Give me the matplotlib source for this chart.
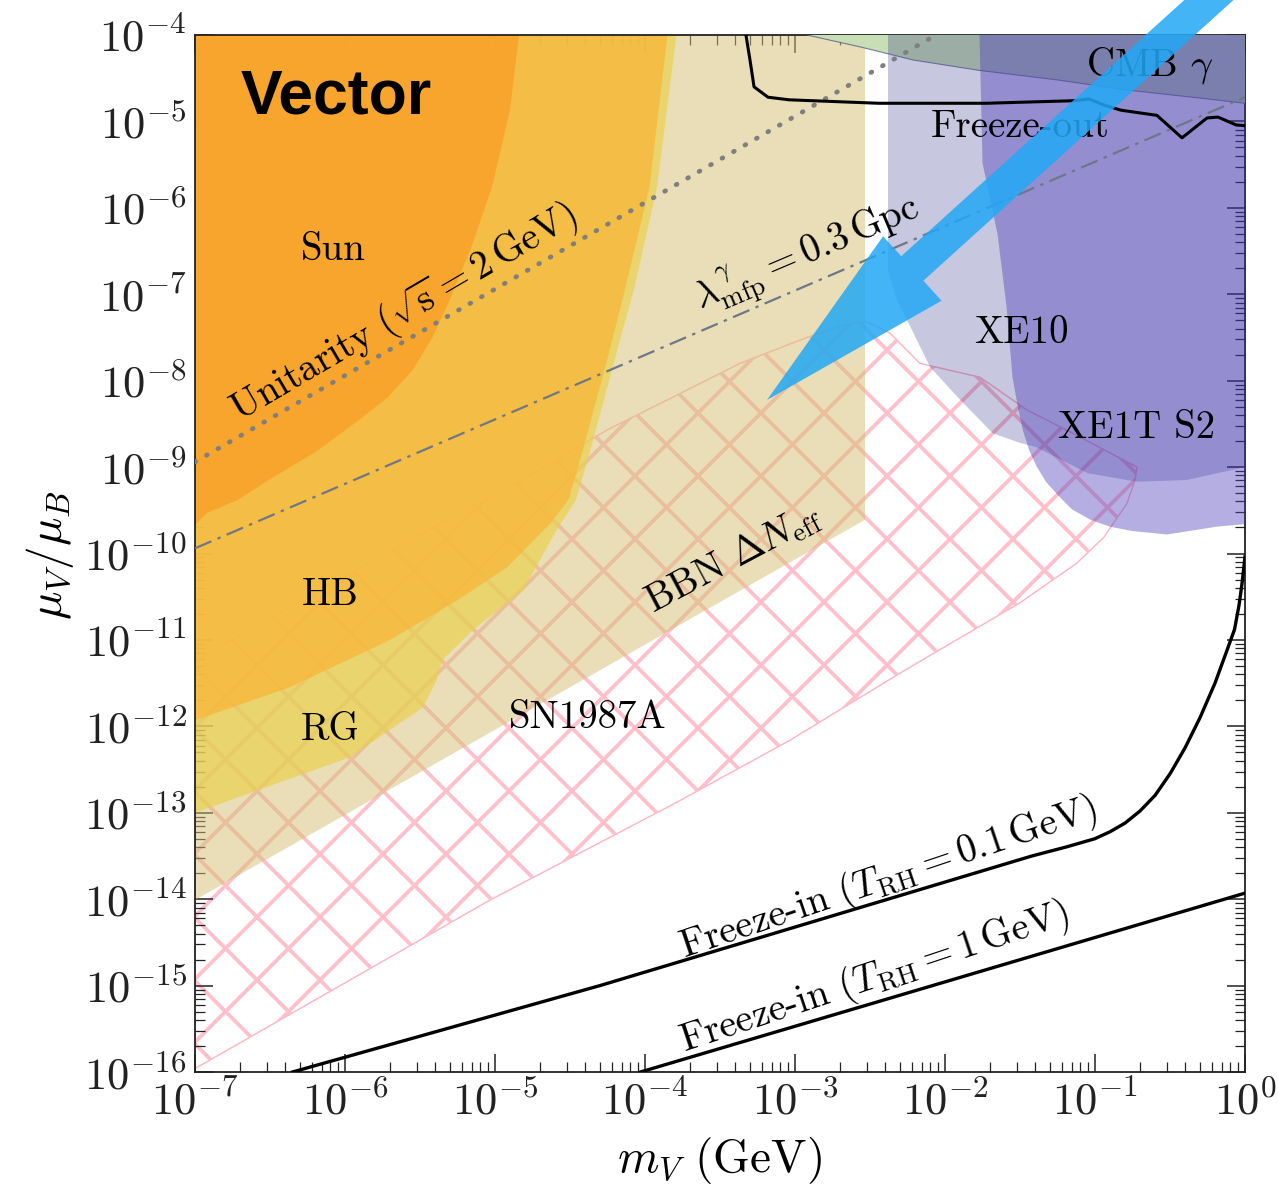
import numpy as np
import matplotlib
matplotlib.use('Agg')
import matplotlib.pyplot as plt
from matplotlib.patches import Polygon, FancyArrow
from matplotlib.collections import LineCollection
from matplotlib.ticker import FixedLocator, FuncFormatter, NullFormatter

plt.rcParams['mathtext.fontset'] = 'cm'

# --- exclusion regions, log10(m_V / GeV) vs log10(mu_V / mu_B) ---
sun_logm = [-4.84, -4.90, -5.02, -5.153, -5.31, -5.42, -5.55, -5.713, -5.91, -6.20, -6.51,
            -6.713, -6.92, -7.00]
sun_logmu = [-4.00, -4.87, -5.76, -6.43, -7.10, -7.51, -7.88, -8.19, -8.46, -8.83, -9.15,
             -9.38, -9.53, -9.67]

hb_logm = [-3.85, -3.97, -4.13, -4.24, -4.42, -4.51, -4.63, -4.92, -5.25, -5.70, -6.37, -7.00]
hb_logmu = [-4.00, -5.76, -6.92, -7.68, -8.84, -9.38, -9.65, -10.16, -10.54, -11.00, -11.55, -11.93]

rg_logm = [-3.79, -3.92, -4.07, -4.19, -4.37, -4.46, -4.59, -4.81, -5.15, -5.35, -5.39, -5.48,
           -5.70, -5.97, -7.00]
rg_logmu = [-4.00, -5.76, -6.92, -7.68, -8.84, -9.38, -9.73, -10.42, -10.89, -11.23, -11.47,
            -11.78, -12.04, -12.36, -13.00]

bbn_logm = [-7.00, -2.533, -2.533, -7.00]
bbn_logmu = [-4.00, -4.00, -9.61, -14.01]

sn_logm = [-7.00, -5.367, -4.70, -4.253, -3.813, -3.367, -2.92, -2.667, -2.52, -2.367, -2.253,
           -2.167, -1.767, -1.453, -1.147, -0.72, -0.733, -0.787, -0.94, -1.12, -1.50, -2.267,
           -3.033, -3.80, -5.033, -7.00]
sn_logmu = [-11.24, -9.65, -9.03, -8.57, -8.19, -7.80, -7.50, -7.35, -7.32, -7.45, -7.65,
            -7.80, -7.96, -8.34, -8.61, -9.00, -9.15, -9.42, -9.81, -10.11, -10.57, -11.35,
            -12.16, -12.89, -14.01, -15.96]

xe10_logm = [-2.38, -2.38, -2.32, -2.21, -2.10, -1.90, -1.68, -1.50, -1.39, -1.05, -0.72,
             -0.39, 0.00]
xe10_logmu = [-4.00, -6.72, -7.07, -7.45, -7.84, -8.22, -8.61, -8.72, -8.77, -9.07, -9.17,
              -9.15, -9.00]

xe1t_logm = [-1.77, -1.75, -1.65, -1.59, -1.55, -1.513, -1.48, -1.44, -1.39, -1.327, -1.25,
             -1.153, -1.03, -0.90, -0.75, -0.52, -0.19, 0.00]
xe1t_logmu = [-4.00, -5.48, -6.30, -7.14, -7.96, -8.32, -8.58, -8.80, -8.99, -9.17, -9.32,
              -9.49, -9.61, -9.69, -9.74, -9.78, -9.69, -9.66]

cmb_logm = [-2.92, -2.56, -2.21, -1.77, -1.25, -0.77, -0.30, 0.00]
cmb_logmu = [-4.00, -4.14, -4.29, -4.41, -4.52, -4.64, -4.73, -4.79]

# --- reference curves ---
unitarity_logm = [-7.00, -2.06]
unitarity_logmu = [-8.94, -4.00]

mfp_logm = [-7.00, 0.00]
mfp_logmu = [-9.94, -4.72]

freezeout_logm = [-3.327, -3.30, -3.273, -3.18, -3.04, -2.44, -1.727, -1.133, -1.04, -0.94,
                  -0.827, -0.587, -0.42, -0.253, -0.18, -0.06, 0.00]
freezeout_logmu = [-4.00, -4.29, -4.60, -4.72, -4.75, -4.79, -4.79, -4.76, -4.74, -4.81,
                   -4.87, -4.93, -5.19, -4.96, -4.95, -5.04, -5.05]

fin01_logm = [-6.35, -4.30, -2.86, -1.42, -1.20, -1.00, -0.90, -0.80, -0.70, -0.60, -0.50,
              -0.40, -0.30, -0.20, -0.12, -0.07, -0.04, -0.02, 0.00]
fin01_logmu = [-16.00, -15.00, -14.25, -13.50, -13.40, -13.30, -13.22, -13.12, -12.98, -12.80,
               -12.55, -12.25, -11.90, -11.50, -11.12, -10.88, -10.60, -10.35, -10.04]

fin1_logm = [-4.03, 0.00]
fin1_logmu = [-16.00, -13.93]

x_decades = np.arange(-7, 1)
y_decades = np.arange(-16, -3)


def pts(logm, logmu):
    return np.column_stack([np.power(10.0, logm), np.power(10.0, logmu)])


def region(logm, logmu, close_m, close_mu):
    """Boundary points closed off through the given corner points."""
    xy = pts(logm, logmu)
    return np.vstack([xy, pts(close_m, close_mu)])


fig = plt.figure(figsize=(12.78, 11.90), dpi=100)
ax = fig.add_axes([195 / 1278, 1 - 1072 / 1190, 1050 / 1278, 1037 / 1190])
ax.set_xscale('log')
ax.set_yscale('log')
ax.set_xlim(1e-7, 1)
ax.set_ylim(1e-16, 1e-4)

# SN1987A: cross-hatched band, hatch drawn by hand so the cells are large
sn_patch = Polygon(pts(sn_logm, sn_logmu), closed=True, facecolor='none',
                   edgecolor='#ffb3c0', lw=1.0, zorder=1)
ax.add_patch(sn_patch)
W, H, step = 1050.0, 1037.0, 63.0
segs = []
for c in np.arange(93 - 18 * step, H + step, step):
    segs.append([(0, c / H), (1, (W + c) / H)])
for d in np.arange(217 - 4 * step, W + H + 2 * step, step):
    segs.append([(0, d / H), (1, (d - W) / H)])
hatch = LineCollection(segs, colors='#ffc0cb', linewidths=2.7,
                       transform=ax.transAxes, zorder=1)
hatch.set_clip_path(sn_patch)
ax.add_collection(hatch)

# BBN, red giants, horizontal branch, Sun
ax.add_patch(Polygon(pts(bbn_logm, bbn_logmu), closed=True, facecolor='#d5bf71',
                     alpha=0.5, lw=0, zorder=2))
ax.add_patch(Polygon(region(rg_logm, rg_logmu, [-7.0], [-4.0]), closed=True,
                     facecolor='#e9d14e', alpha=0.7, lw=0, zorder=2))
ax.add_patch(Polygon(region(hb_logm, hb_logmu, [-7.0], [-4.0]), closed=True,
                     facecolor='#f8b83c', alpha=0.8, lw=0, zorder=2))
ax.add_patch(Polygon(region(sun_logm, sun_logmu, [-7.0], [-4.0]), closed=True,
                     facecolor='#f8a028', alpha=0.8, lw=0, zorder=2))

# CMB, then the XENON regions on top of it
ax.add_patch(Polygon(region(cmb_logm, cmb_logmu, [0.0], [-4.0]), closed=True,
                     facecolor='#c8deb4', lw=0, zorder=3))
ax.add_patch(Polygon(region(xe10_logm, xe10_logmu, [0.0], [-4.0]), closed=True,
                     facecolor='#0d0d76', alpha=0.23, lw=0, zorder=4))
ax.add_patch(Polygon(region(xe1t_logm, xe1t_logmu, [0.0], [-4.0]), closed=True,
                     facecolor='#4f40bc', alpha=0.42, lw=0, zorder=4))
cmb_edge = pts(cmb_logm, cmb_logmu)
ax.plot(cmb_edge[:, 0], cmb_edge[:, 1], color='#4b4b8a', lw=0.8, alpha=0.7, zorder=4.5)

# lines
u = pts(unitarity_logm, unitarity_logmu)
ax.plot(u[:, 0], u[:, 1], color='#7f7f7f', lw=3.4, ls=(0, (0.2, 2.6)),
        dash_capstyle='round', zorder=5)
l = pts(mfp_logm, mfp_logmu)
ax.plot(l[:, 0], l[:, 1], color='#6e7787', lw=1.6, ls=(0, (8, 3, 1.5, 3)), zorder=5)
fo = pts(freezeout_logm, freezeout_logmu)
ax.plot(fo[:, 0], fo[:, 1], color='black', lw=2.2, zorder=5)
f01 = pts(fin01_logm, fin01_logmu)
ax.plot(f01[:, 0], f01[:, 1], color='black', lw=2.4, zorder=5)
f1 = pts(fin1_logm, fin1_logmu)
ax.plot(f1[:, 0], f1[:, 1], color='black', lw=2.4, zorder=5)

# labels
lab = dict(fontsize=28, fontfamily='cmr10', ha='center', va='center',
           rotation_mode='anchor', zorder=6)
ax.text(10**-6.08, 10**-6.49, 'Sun', **lab)
ax.text(10**-6.10, 10**-10.48, 'HB', **lab)
ax.text(10**-6.10, 10**-12.04, 'RG', **lab)
ax.text(10**-4.38, 10**-11.90, 'SN1987A', **lab)
ax.text(10**-1.49, 10**-7.45, 'XE10', **lab)
ax.text(10**-0.72, 10**-8.55, 'XE1T S2', **lab)
ax.text(10**-0.633, 10**-4.35, r'CMB $\gamma$', **lab)
ax.text(10**-1.50, 10**-5.06, 'Freeze-out', **lab)
ax.text(10**-5.613, 10**-7.21, r'Unitarity $(\sqrt{\mathrm{s}}=2\,\mathrm{GeV})$',
        rotation=30.4, **lab)
ax.text(10**-2.913, 10**-6.55, r'$\lambda_{\mathrm{mfp}}^{\gamma}=0.3\,\mathrm{Gpc}$',
        rotation=23, **lab)
ax.text(10**-3.413, 10**-10.05, r'BBN $\Delta N_{\mathrm{eff}}$', rotation=28, **lab)
ax.text(10**-2.38, 10**-13.76, r'Freeze-in $(T_{\mathrm{RH}}=0.1\,\mathrm{GeV})$',
        rotation=18.6, **lab)
ax.text(10**-2.467, 10**-14.91, r'Freeze-in $(T_{\mathrm{RH}}=1\,\mathrm{GeV})$',
        rotation=18.4, **lab)
ax.text(0.043, 0.940, 'Vector', transform=ax.transAxes, fontsize=45,
        fontfamily='Liberation Sans', fontweight='bold', ha='left', va='center', zorder=6)

# axes and ticks
ax.xaxis.set_major_locator(FixedLocator(10.0**x_decades))
ax.yaxis.set_major_locator(FixedLocator(10.0**y_decades))
ax.xaxis.set_minor_locator(FixedLocator(
    [s * 10.0**e for e in x_decades[:-1] for s in range(2, 10)]))
ax.yaxis.set_minor_locator(FixedLocator(
    [s * 10.0**e for e in y_decades[:-1] for s in range(2, 10)]))
dec_fmt = FuncFormatter(lambda v, _: r'$10^{%d}$' % int(round(np.log10(v))))
ax.xaxis.set_major_formatter(dec_fmt)
ax.yaxis.set_major_formatter(dec_fmt)
ax.xaxis.set_minor_formatter(NullFormatter())
ax.yaxis.set_minor_formatter(NullFormatter())
ax.tick_params(which='both', direction='in', top=True, right=True, colors='#222222')
ax.tick_params(which='major', length=13, width=1.1, labelsize=32, pad=6)
ax.tick_params(which='minor', length=7, width=0.9)
for sp in ax.spines.values():
    sp.set_linewidth(1.3)
    sp.set_color('#222222')

fig.text(720 / 1278, 1 - 1160 / 1190, r'$m_V\ (\mathrm{GeV})$', fontsize=34,
         ha='center', va='center')
fig.text(50 / 1278, 1 - 555 / 1190, r'$\mu_V/\mu_B$', fontsize=34,
         ha='center', va='center', rotation=90)

# pointer arrow (figure inches)
arrow = FancyArrow(12.31, 12.10, -4.64, -4.20, width=0.33, head_width=0.87,
                   head_length=1.96, length_includes_head=True,
                   transform=fig.dpi_scale_trans, color='#22a8f5', alpha=0.85,
                   lw=0, zorder=10, clip_on=False)
fig.add_artist(arrow)

fig.savefig('out.png', dpi=100)
